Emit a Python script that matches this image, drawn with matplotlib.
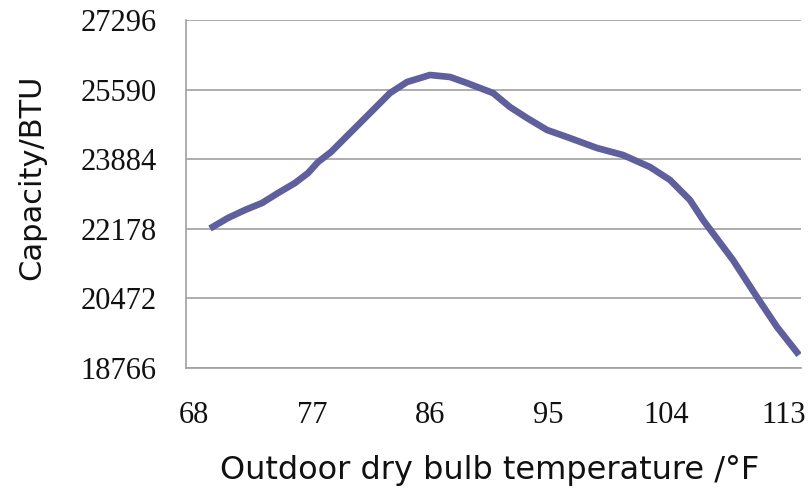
import matplotlib
matplotlib.use("Agg")
import matplotlib.pyplot as plt

# Data
temp_f = [69.22, 70.59, 71.89, 73.19, 74.41, 75.70, 76.70, 77.46, 78.45, 79.90,
          81.43, 82.95, 84.25, 86.00, 87.53, 88.82, 90.81, 92.10, 93.40, 94.93,
          96.45, 98.74, 100.72, 102.78, 104.31, 105.83, 106.83, 107.97, 109.11,
          110.94, 112.47, 114.15]
capacity = [22185, 22443, 22639, 22810, 23055, 23300, 23545, 23815, 24060, 24526,
            25016, 25506, 25776, 25948, 25899, 25751, 25506, 25163, 24894, 24600,
            24428, 24158, 23987, 23693, 23374, 22884, 22393, 21903, 21413,
            20506, 19771, 19085]
x_ticks = [68, 77, 86, 95, 104, 113]
y_ticks = [18766, 20472, 22178, 23884, 25590, 27296]

W, H = 809, 496
fig = plt.figure(figsize=(W / 100, H / 100), dpi=100)
ax = fig.add_axes([186 / W, 1 - 368 / H, 615 / W, 348 / H])

ax.plot(temp_f, capacity, color="#5f5f9d", lw=4.8, solid_capstyle="butt",
        solid_joinstyle="round", zorder=3)

ax.set_xlim(67.39, 114.30)
ax.set_ylim(y_ticks[0], y_ticks[-1])
ax.set_xticks(x_ticks)
ax.set_xticklabels([str(v) for v in x_ticks])
ax.set_yticks(y_ticks)
ax.set_yticklabels([str(v) for v in y_ticks])

ax.grid(axis="y", color="#a0a0a0", lw=1.2, zorder=1)
ax.grid(axis="x", visible=False)
for s in ["top", "right"]:
    ax.spines[s].set_visible(False)
for s in ["left", "bottom"]:
    ax.spines[s].set_color("#a0a0a0")
    ax.spines[s].set_linewidth(1.2)

ax.tick_params(axis="both", length=0, labelsize=22, colors="#111111")
ax.tick_params(axis="y", pad=21)
ax.tick_params(axis="x", pad=24)
for lab in ax.get_xticklabels() + ax.get_yticklabels():
    lab.set_family("Liberation Serif")

fig.text(490 / W, 1 - 470 / H, "Outdoor dry bulb temperature /°F",
         ha="center", va="center", fontsize=23, family="DejaVu Sans", color="#111111")
fig.text(32 / W, 1 - 177 / H, "Capacity/BTU", rotation=90,
         ha="center", va="center", fontsize=22, family="DejaVu Sans", color="#111111")

fig.savefig("out.png", dpi=100)
